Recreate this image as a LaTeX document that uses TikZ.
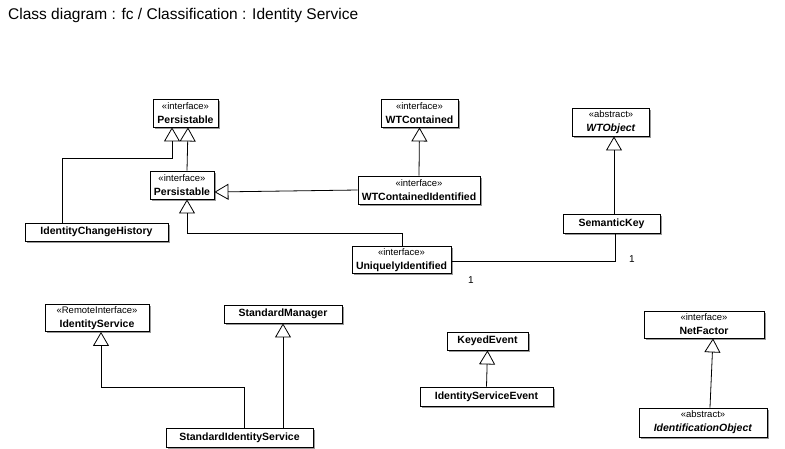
\documentclass[tikz,border=0pt]{standalone}
\usepackage{fontspec}
\setmainfont{Liberation Sans}
\usetikzlibrary{arrows.meta}
\usetikzlibrary{shadows}
\newcommand{\stereo}[1]{{\fontsize{9.5}{10}\selectfont\mdseries #1}}

\begin{document}
\begin{tikzpicture}[x=1pt, y=-1pt,
    cls/.style={draw, line width=0.9pt, fill=white, align=center, inner sep=0pt,
      font=\fontsize{10.5}{11.5}\selectfont,
      drop shadow={shadow xshift=1.5pt, shadow yshift=-1.5pt, fill=black!40, opacity=1}},
    gen/.style={line width=0.8pt, -{Triangle[open, width=16pt, length=14pt]}},
    assoc/.style={line width=0.8pt},
    mult/.style={font=\fontsize{10}{12}\selectfont, inner sep=0pt}]
    \useasboundingbox (0,0) rectangle (785,448);

    \node [anchor=base west, inner sep=0pt, font=\fontsize{15.5}{18}\selectfont] (title) at (8,19) {Class diagram : fc / Classification : Identity Service};

    \node [cls, minimum width=65pt, minimum height=28pt] (pers) at (185.5,113) {\stereo{«interface»}\\[2.5pt]\textbf{Persistable}};
    \node [cls, minimum width=77pt, minimum height=28pt] (wtc) at (419.5,113) {\stereo{«interface»}\\[2.5pt]\textbf{WTContained}};
    \node [cls, minimum width=77pt, minimum height=28pt] (wto) at (611,122) {\stereo{«abstract»}\\[2.5pt]\textbf{\textit{WTObject}}};
    \node [cls, minimum width=64pt, minimum height=28pt] (pers2) at (182,185) {\stereo{«interface»}\\[2.5pt]\textbf{Persistable}};
    \node [cls, minimum width=122pt, minimum height=28pt] (wtci) at (419,190) {\stereo{«interface»}\\[2.5pt]\textbf{WTContainedIdentified}};
    \node [cls, minimum width=143pt, minimum height=18pt] (ich) at (96.5,232) {\textbf{IdentityChangeHistory}};
    \node [cls, minimum width=97pt, minimum height=19pt] (sk) at (611.5,223.5) {\textbf{SemanticKey}};
    \node [cls, minimum width=99pt, minimum height=27pt] (uid) at (401.5,260) {\stereo{«interface»}\\[2.5pt]\textbf{UniquelyIdentified}};

    \node [cls, minimum width=104pt, minimum height=27pt] (is) at (97,318) {\stereo{«RemoteInterface»}\\[2.5pt]\textbf{IdentityService}};
    \node [cls, minimum width=118pt, minimum height=18pt] (sm) at (283,314) {\textbf{StandardManager}};
    \node [cls, minimum width=147pt, minimum height=19pt] (sis) at (239.5,437.5) {\textbf{StandardIdentityService}};
    \node [cls, minimum width=81pt, minimum height=18pt] (ke) at (487.5,341) {\textbf{KeyedEvent}};
    \node [cls, minimum width=133pt, minimum height=19pt] (ise) at (486.5,396.5) {\textbf{IdentityServiceEvent}};
    \node [cls, minimum width=120pt, minimum height=27pt] (nf) at (704,324.5) {\stereo{«interface»}\\[2.5pt]\textbf{NetFactor}};
    \node [cls, minimum width=128pt, minimum height=29pt] (io) at (703,422.5) {\stereo{«abstract»}\\[2.5pt]\textbf{\textit{IdentificationObject}}};

    \draw [gen] ([xshift=-34.5pt]ich.north) -- ++(0,-64) -| ([xshift=-13.5pt]pers.south);
    \draw [gen] ([xshift=5pt]pers2.north) -- ([xshift=2.5pt]pers.south);
    \draw [gen] (wtci.west) -- ([yshift=-7pt]pers2.east);
    \draw [gen] (wtci.north) -- (wtc.south);
    \draw [gen] ([xshift=0.5pt]uid.north) -- ++(0,-13) -| ([xshift=5pt]pers2.south);
    \draw [gen] ([xshift=2.5pt]sk.north) -- ([xshift=3pt]wto.south);
    \draw [assoc] ([yshift=-1.5pt]uid.east) -| ([xshift=4pt]sk.south);
    \node [mult] (m1) at (471,280) {1};
    \node [mult] (m2) at (632,259) {1};

    \draw [gen] ([xshift=4.5pt]sis.north) -- ++(0,-40) -| ([xshift=4pt]is.south);
    \draw [gen] (sm.south |- sis.north) -- (sm.south);
    \draw [gen] (ise.north) -- (ke.south);
    \draw [gen] ([xshift=7pt]io.north) -- ([xshift=9pt]nf.south);
  \end{tikzpicture}
\end{document}
